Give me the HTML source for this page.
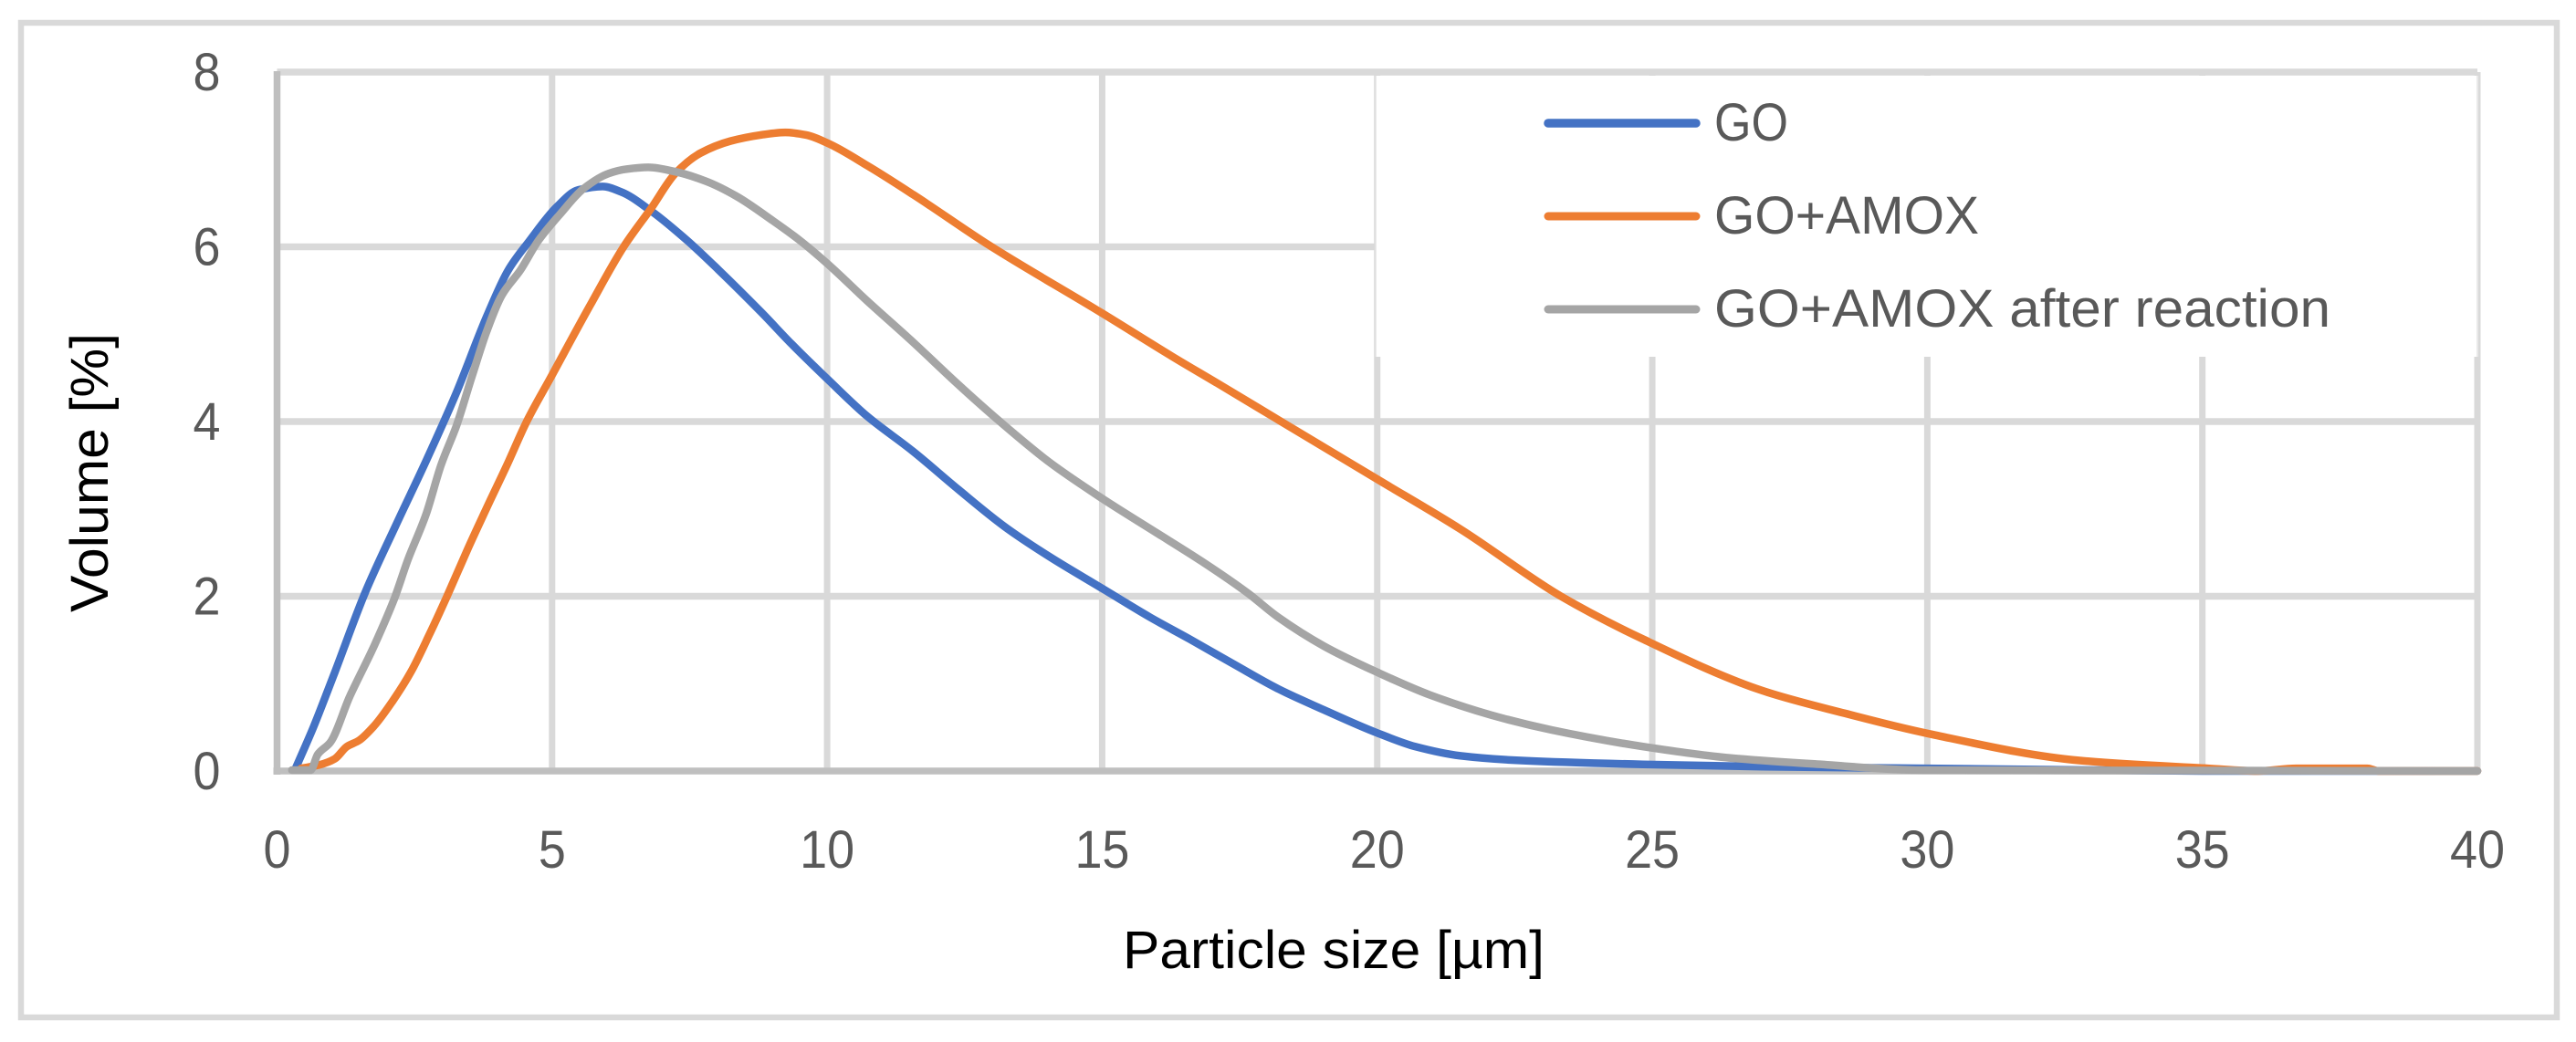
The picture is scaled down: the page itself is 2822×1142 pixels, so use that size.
<!DOCTYPE html>
<html lang="en">
<head>
<meta charset="utf-8">
<title>Particle size distribution</title>
<style>
html,body{margin:0;padding:0;background:#fff;}
svg{display:block;}
text{font-family:"Liberation Sans",sans-serif;font-size:58px;}
</style>
</head>
<body>
<svg id="chart" xmlns="http://www.w3.org/2000/svg" width="2822" height="1142" viewBox="0 0 2822 1142">
  <rect x="0" y="0" width="2822" height="1142" fill="#ffffff"/>
  <rect x="23" y="25" width="2778" height="1090" fill="none" stroke="#d9d9d9" stroke-width="6.5"/>
  <g id="grid"></g>
  <g id="axes"></g>
  <g id="series"></g>
  <g>
    <rect x="1507" y="83" width="1208" height="308" fill="#ffffff"/>
    <line x1="1507" y1="83" x2="1507" y2="391" stroke="#e2e2e2" stroke-width="1.5"/>
    <line x1="2714" y1="83" x2="2714" y2="391" stroke="#e2e2e2" stroke-width="1.5"/>
    <line x1="1696" y1="135" x2="1858" y2="135" stroke="#4472c4" stroke-width="9.5" stroke-linecap="round"/>
    <text x="1878" y="154" fill="#595959" textLength="81" lengthAdjust="spacingAndGlyphs">GO</text>
    <line x1="1696" y1="237" x2="1858" y2="237" stroke="#ed7d31" stroke-width="9" stroke-linecap="round"/>
    <text x="1878" y="256" fill="#595959" textLength="290" lengthAdjust="spacingAndGlyphs">GO+AMOX</text>
    <line x1="1696" y1="339" x2="1858" y2="339" stroke="#a5a5a5" stroke-width="9" stroke-linecap="round"/>
    <text x="1878" y="358" fill="#595959" textLength="675" lengthAdjust="spacingAndGlyphs">GO+AMOX after reaction</text>
  </g>
  <text x="1230" y="1061" fill="#000000" textLength="462" lengthAdjust="spacingAndGlyphs">Particle size [µm]</text>
  <text transform="translate(118,671) rotate(-90)" x="0" y="0" fill="#000000" textLength="306" lengthAdjust="spacingAndGlyphs">Volume [%]</text>
</svg>
<script>
var xTicks = [0, 5, 10, 15, 20, 25, 30, 35, 40];
var yTicks = [0, 2, 4, 6, 8];

var sizeGO = [0.33, 0.66, 1.05, 1.60, 2.15, 2.71, 3.26, 3.81, 4.20, 4.59, 5.09, 5.47, 5.92, 6.25, 6.80, 7.46, 8.02, 8.79, 9.35, 10.0, 10.73, 11.56, 12.39, 13.22, 14.05, 15.0, 15.87, 16.59, 17.4, 18.2, 19.03, 20.0, 20.69, 21.51, 22.62, 24.83, 27, 30, 33, 35, 40];
var volumeGO = [0.02, 0.50, 1.13, 2.04, 2.80, 3.55, 4.33, 5.20, 5.73, 6.07, 6.46, 6.65, 6.69, 6.63, 6.41, 6.07, 5.74, 5.26, 4.89, 4.49, 4.06, 3.66, 3.22, 2.80, 2.45, 2.09, 1.76, 1.51, 1.22, 0.94, 0.70, 0.435, 0.28, 0.174, 0.12, 0.076, 0.05, 0.03, 0.01, 0, 0];

var sizeAmox = [0.44, 0.77, 1.05, 1.27, 1.49, 1.77, 2.10, 2.43, 2.76, 3.09, 3.48, 3.81, 4.20, 4.53, 4.98, 5.70, 6.30, 6.80, 7.24, 7.69, 8.24, 8.79, 9.24, 9.62, 10.0, 10.73, 11.56, 12.94, 15.0, 16.26, 17.09, 18.2, 20.0, 21.51, 23.34, 24.83, 27, 28.5, 30, 32.77, 35.1, 36, 36.7, 38, 38.2, 40];
var volumeAmox = [0.03, 0.07, 0.14, 0.28, 0.35, 0.52, 0.80, 1.13, 1.55, 2.0, 2.56, 3.01, 3.53, 3.99, 4.51, 5.34, 6.0, 6.44, 6.84, 7.07, 7.21, 7.28, 7.31, 7.28, 7.19, 6.93, 6.60, 6.02, 5.24, 4.75, 4.44, 4.02, 3.34, 2.77, 2.0, 1.51, 0.92, 0.66, 0.43, 0.12, 0.03, 0, 0.03, 0.03, 0, 0];

var sizeReacted = [0.27, 0.61, 0.74, 0.97, 1.32, 1.77, 2.13, 2.38, 2.71, 2.98, 3.26, 3.54, 3.81, 4.09, 4.42, 4.75, 5.14, 5.58, 6.03, 6.36, 6.75, 7.24, 7.80, 8.35, 9.01, 9.51, 10.0, 10.73, 11.56, 12.39, 13.16, 14.05, 15.0, 15.98, 16.81, 17.64, 18.2, 19.03, 20.0, 20.96, 22.07, 23.17, 24.83, 26.4, 27.95, 29.9, 40];
var volumeReacted = [0.01, 0.01, 0.19, 0.33, 0.85, 1.44, 1.97, 2.42, 2.94, 3.50, 3.95, 4.51, 5.03, 5.45, 5.73, 6.07, 6.37, 6.67, 6.84, 6.89, 6.91, 6.86, 6.75, 6.58, 6.30, 6.07, 5.81, 5.38, 4.91, 4.42, 3.99, 3.53, 3.12, 2.73, 2.40, 2.04, 1.76, 1.43, 1.13, 0.87, 0.64, 0.47, 0.28, 0.15, 0.08, 0.01, 0];

var SVGNS = 'http://www.w3.org/2000/svg';
var plot = {left: 303.5, right: 2714, top: 79, bottom: 845, xMax: 40, yMax: 8};

function xScale(v) {
  return plot.left + (v / plot.xMax) * (plot.right - plot.left);
}
function yScale(v) {
  return plot.bottom - (v / plot.yMax) * (plot.bottom - plot.top);
}
function make(tag, attrs, parent) {
  var el = document.createElementNS(SVGNS, tag);
  for (var k in attrs) { el.setAttribute(k, attrs[k]); }
  parent.appendChild(el);
  return el;
}
function smoothPath(xs, ys) {
  var px = xs.map(xScale), py = ys.map(yScale), n = px.length, s = [], m = [];
  for (var i = 0; i < n - 1; i++) { s.push((py[i + 1] - py[i]) / (px[i + 1] - px[i])); }
  m[0] = s[0];
  m[n - 1] = s[n - 2];
  for (var j = 1; j < n - 1; j++) {
    var h0 = px[j] - px[j - 1], h1 = px[j + 1] - px[j];
    if (s[j - 1] * s[j] <= 0) { m[j] = 0; }
    else {
      var w1 = 2 * h1 + h0, w2 = h1 + 2 * h0;
      m[j] = (w1 + w2) / (w1 / s[j - 1] + w2 / s[j]);
    }
  }
  var d = 'M' + px[0].toFixed(1) + ' ' + py[0].toFixed(1);
  for (var t = 0; t < n - 1; t++) {
    var dx = (px[t + 1] - px[t]) / 3;
    d += ' C' + (px[t] + dx).toFixed(1) + ' ' + (py[t] + m[t] * dx).toFixed(1) +
         ' ' + (px[t + 1] - dx).toFixed(1) + ' ' + (py[t + 1] - m[t + 1] * dx).toFixed(1) +
         ' ' + px[t + 1].toFixed(1) + ' ' + py[t + 1].toFixed(1);
  }
  return d;
}

var grid = document.getElementById('grid');
var axes = document.getElementById('axes');
var series = document.getElementById('series');

xTicks.forEach(function (t) {
  if (t !== 0) {
    var gl = make('line', {x1: xScale(t), y1: plot.top, x2: xScale(t), y2: plot.bottom, stroke: '#d9d9d9', 'stroke-width': 7}, grid);
    
    
  }
  var lab = make('text', {x: xScale(t), y: 951, fill: '#595959', 'text-anchor': 'middle', textLength: String(t).length * 30, lengthAdjust: 'spacingAndGlyphs'}, axes);
  lab.textContent = String(t);
  
  
});

yTicks.forEach(function (t) {
  if (t !== 0) {
    var gl = make('line', {x1: plot.left, y1: yScale(t), x2: plot.right, y2: yScale(t), stroke: '#d9d9d9', 'stroke-width': 7.5}, grid);
    
    
  }
  var lab = make('text', {x: 226.5, y: yScale(t) + 20, fill: '#595959', 'text-anchor': 'middle', textLength: String(t).length * 30, lengthAdjust: 'spacingAndGlyphs'}, axes);
  lab.textContent = String(t);
  
  
});

var yAxisLine = make('line', {x1: plot.left, y1: plot.top - 1, x2: plot.left, y2: plot.bottom + 4, stroke: '#bfbfbf', 'stroke-width': 7.5}, axes);



var xAxisLine = make('line', {x1: plot.left - 4, y1: plot.bottom, x2: plot.right, y2: plot.bottom, stroke: '#bfbfbf', 'stroke-width': 7.5}, axes);



var lineGO = make('path', {d: smoothPath(sizeGO, volumeGO), fill: 'none', stroke: '#4472c4', 'stroke-width': 8.5, 'stroke-linecap': 'round', 'stroke-linejoin': 'round'}, series);



var lineAmox = make('path', {d: smoothPath(sizeAmox, volumeAmox), fill: 'none', stroke: '#ed7d31', 'stroke-width': 8.5, 'stroke-linecap': 'round', 'stroke-linejoin': 'round'}, series);



var lineReacted = make('path', {d: smoothPath(sizeReacted, volumeReacted), fill: 'none', stroke: '#a5a5a5', 'stroke-width': 8.5, 'stroke-linecap': 'round', 'stroke-linejoin': 'round'}, series);


</script>
</body>
</html>
